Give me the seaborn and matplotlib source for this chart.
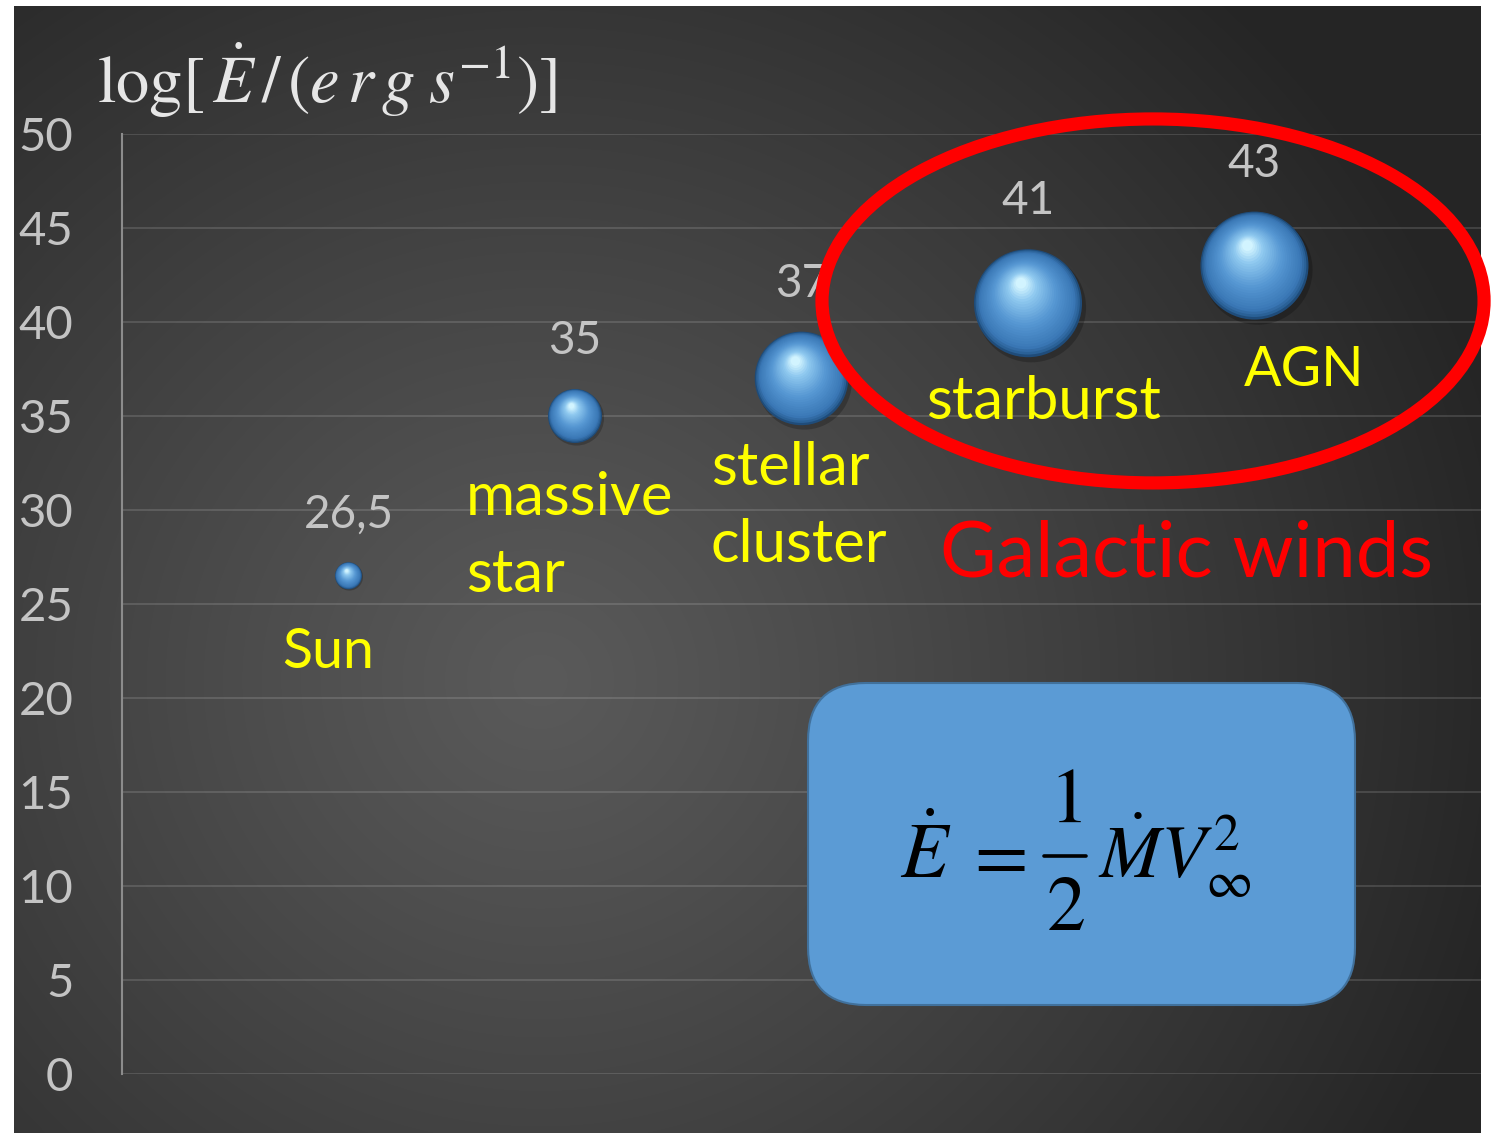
import numpy as np
import pandas as pd
import matplotlib
matplotlib.use("Agg")
import matplotlib.pyplot as plt
import seaborn as sns
from matplotlib.patches import Ellipse, FancyBboxPatch
from matplotlib.lines import Line2D
from matplotlib.colors import LinearSegmentedColormap

# --- data -------------------------------------------------------------
categories = ["Sun", "massive\nstar", "stellar\ncluster", "starburst", "AGN"]
x_pos = [1, 2, 3, 4, 5]
log_edot = [26.5, 35, 37, 41, 43]
value_labels = ["26,5", "35", "37", "41", "43"]
bubble_size = [1, 4, 12, 16, 16]
y_ticks = [0, 5, 10, 15, 20, 25, 30, 35, 40, 45, 50]

df = pd.DataFrame({"x": x_pos, "y": log_edot, "size": bubble_size,
                   "name": categories})

# --- style ------------------------------------------------------------
sns.set_theme(style="white")
plt.rcParams["font.family"] = ["Lato", "DejaVu Sans"]
plt.rcParams["mathtext.fontset"] = "stix"

W, H, DPI = 1499, 1135, 100
fig = plt.figure(figsize=(W / DPI, H / DPI), dpi=DPI)
fig.patch.set_facecolor("white")


def fx(px):
    return px / W


def fy(py):
    return (H - py) / H


# dark radial-gradient backdrop
bx0, bx1, by0, by1 = 14, 1481, 6, 1133
bg = fig.add_axes([bx0 / W, (H - by1) / H, (bx1 - bx0) / W, (by1 - by0) / H])
gx, gy = np.meshgrid(np.arange(bx0, bx1), np.arange(by0, by1))
d = np.hypot(gx - 540, (gy - 680) * 1.05) / 1000
d = np.clip(d, 0, 1) ** 1.1
lum = (0x5a - (0x5a - 0x25) * d) / 255
bg.imshow(np.dstack([lum, lum, lum]), aspect="auto", interpolation="bilinear")
bg.set_axis_off()

# plotting axes
ax = fig.add_axes([122 / W, (H - 1074) / H, (1481 - 122) / W, 940 / H])
ax.set_facecolor("none")
ax.set_xlim(0, 6)
ax.set_ylim(0, 50)
ax.set_yticks(y_ticks)
ax.set_yticklabels([str(t) for t in y_ticks])
ax.set_xticks([])
for s in ["top", "right", "bottom"]:
    ax.spines[s].set_visible(False)
ax.spines["left"].set_color("#8c8c8c")
ax.spines["left"].set_linewidth(1.5)
ax.tick_params(axis="y", direction="out", length=12, width=1.5,
               color="#8c8c8c", labelcolor="#c4c4c4", labelsize=34, pad=23)
ax.yaxis.grid(True, color="white", alpha=0.13, linewidth=1.5)
ax.set_axisbelow(True)

# --- bubbles ----------------------------------------------------------
s_min, s_max = 378, 6048
sizes_pt2 = np.array(bubble_size, dtype=float) * s_min  # same area scale as seaborn's mapping
r_px = np.sqrt(sizes_pt2) / 2 * DPI / 72

xy = np.column_stack([df["x"], df["y"]])
disp = ax.transData.transform(xy)


def shifted(dx, dy):
    p = disp + np.column_stack([dx, dy])
    return ax.transData.inverted().transform(p)


# soft drop shadow
sh = shifted(r_px * 0.06, -r_px * 0.08)
ax.scatter(sh[:, 0], sh[:, 1], s=sizes_pt2 * 1.03, color="black",
           alpha=0.22, linewidths=0, zorder=3)

# base spheres through seaborn's size scale
sns.scatterplot(data=df, x="x", y="y", size="size", sizes=(s_min, s_max),
                size_norm=(1, 16), color="#1f4c7a", edgecolor="none",
                legend=False, ax=ax, zorder=4)
ax.set_xlabel("")
ax.set_ylabel("")

shade = LinearSegmentedColormap.from_list(
    "sphere", [(0.0, "#24578a"), (0.12, "#3a78b6"), (0.45, "#5596d2"),
               (0.8, "#8ec8ef"), (1.0, "#d2f4ff")])
n_layers = 26
hx, hy = -0.13, 0.37
for i in range(1, n_layers + 1):
    t = i / n_layers
    f = 1 - 0.9 * t
    p = shifted(r_px * hx * t, r_px * hy * t)
    ax.scatter(p[:, 0], p[:, 1], s=sizes_pt2 * f ** 2, color=shade(t),
               linewidths=0, zorder=4 + i * 0.01)

# value labels above each bubble
for xi, yi, txt, r in zip(df["x"], df["y"], value_labels, r_px):
    ax.annotate(txt, (xi, yi), xytext=(0, (r + 48) * 72 / DPI),
                textcoords="offset points", ha="center", va="center",
                fontsize=33, color="#c4c4c4", zorder=6)

# category names
name_pos = {
    "Sun": (0.91, 21.6, 40, "center"),
    "massive\nstar": (1.519, 29.73, 43, "left"),
    "stellar\ncluster": (2.60, 31.33, 43, "left"),
    "starburst": (3.55, 34.84, 43, "left"),
    "AGN": (4.954, 36.6, 40, "left"),
}
line_step = 4.1
for name in categories:
    x0, y0, fs, ha = name_pos[name]
    for k, line in enumerate(name.split("\n")):
        ax.text(x0, y0 - k * line_step, line, color="#ffff00", fontsize=fs,
                ha=ha, va="baseline", zorder=6)

ax.text(3.611, 26.44, "Galactic winds", color="#ff0000", fontsize=56,
        ha="left", va="baseline", zorder=6)

# red ellipse around the galactic-wind sources
ax.add_patch(Ellipse((4.552, 41.12), 2.923, 19.36, fill=False,
                     edgecolor="#ff0000", linewidth=9.5, clip_on=False,
                     zorder=8))

# axis title
fig.text(fx(97), fy(103),
         r"$\mathrm{log}[\,\dot{E}\,/\,(e\,r\,g\;s^{-1})]$",
         color="#e6e6e6", fontsize=48, ha="left", va="baseline")

# formula box
box = FancyBboxPatch((8.08, 1.30), 5.47, 3.22,
                     boxstyle="round,pad=0,rounding_size=0.58",
                     transform=fig.dpi_scale_trans, facecolor="#5b9bd5",
                     edgecolor="#41719c", linewidth=1.5, zorder=7)
fig.patches.append(box)

fsz = 56
fig.text(fx(900), fy(878), r"$\dot{E}$", color="black", fontsize=fsz,
         ha="left", va="baseline", zorder=9)
fig.text(fx(994), fy(878), r"$=$", color="black", fontsize=fsz,
         ha="center", va="baseline", zorder=9)
fig.text(fx(1065), fy(822), r"$1$", color="black", fontsize=fsz,
         ha="center", va="baseline", zorder=9)
fig.text(fx(1065), fy(930), r"$2$", color="black", fontsize=fsz,
         ha="center", va="baseline", zorder=9)
fig.lines.append(Line2D([fx(1044), fx(1086)], [fy(856), fy(856)],
                        transform=fig.transFigure, color="black",
                        linewidth=2.6, zorder=9))
fig.text(fx(1098), fy(878), r"$\dot{M}V_{\infty}^{2}$", color="black",
         fontsize=53, ha="left", va="baseline", zorder=9)

fig.savefig("out.png", dpi=DPI, facecolor="white")
